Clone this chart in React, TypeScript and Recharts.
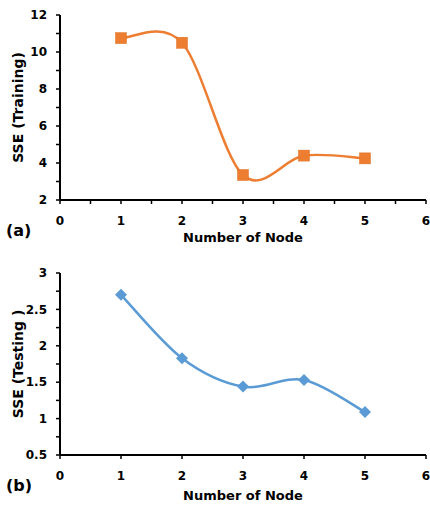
import { LineChart, Line, XAxis, YAxis } from "recharts";

const nodes = [1, 2, 3, 4, 5];
const sseTraining = [10.75, 10.5, 3.35, 4.4, 4.25];
const sseTesting = [2.7, 1.83, 1.44, 1.53, 1.09];

const xTicksTop = [0, 0.5, 1, 1.5, 2, 2.5, 3, 3.5, 4, 4.5, 5, 5.5, 6];
const xTicksBottom = [0, 1, 2, 3, 4, 5, 6];
const yTicksTop = [2, 3, 4, 5, 6, 7, 8, 9, 10, 11, 12];
const yTicksBottom = [0.5, 0.75, 1, 1.25, 1.5, 1.75, 2, 2.25, 2.5, 2.75, 3];

const FONT = "'DejaVu Sans', Verdana, sans-serif";
const ORANGE = "#ED7D31";
const BLUE = "#5B9BD5";

const trainingData = nodes.map((n, i) => ({ node: n, sse: sseTraining[i] }));
const testingData = nodes.map((n, i) => ({ node: n, sse: sseTesting[i] }));

// Excel-style smoothed line (Catmull-Rom as cubic beziers)
function smoothCurve(context: any) {
  let pts: number[][] = [];
  return {
    areaStart() {},
    areaEnd() {},
    lineStart() {
      pts = [];
    },
    point(x: number, y: number) {
      pts.push([+x, +y]);
    },
    lineEnd() {
      if (!pts.length) return;
      context.moveTo(pts[0][0], pts[0][1]);
      for (let i = 0; i < pts.length - 1; i++) {
        const p0 = pts[i - 1] || pts[i];
        const p1 = pts[i];
        const p2 = pts[i + 1];
        const p3 = pts[i + 2] || pts[i + 1];
        context.bezierCurveTo(
          p1[0] + (p2[0] - p0[0]) / 6,
          p1[1] + (p2[1] - p0[1]) / 6,
          p2[0] - (p3[0] - p1[0]) / 6,
          p2[1] - (p3[1] - p1[1]) / 6,
          p2[0],
          p2[1]
        );
      }
    },
  };
}

const SquareDot = (props: any) => {
  const { cx, cy, index } = props;
  return <rect key={`sq-${index}`} x={cx - 5.5} y={cy - 5.5} width={11} height={11} fill={ORANGE} stroke="#e07020" strokeWidth={0.5} />;
};

const DiamondDot = (props: any) => {
  const { cx, cy, index } = props;
  const r = 6;
  return (
    <path
      key={`dm-${index}`}
      d={`M${cx},${cy - r}L${cx + r},${cy}L${cx},${cy + r}L${cx - r},${cy}Z`}
      fill={BLUE}
    />
  );
};

const tickStyle = { fill: "#000", fontSize: 12, fontWeight: "bold", fontFamily: FONT };
const xTitleStyle = { fill: "#000", fontSize: 13, fontWeight: "bold", fontFamily: FONT };
const yTitleStyle = { fill: "#000", fontSize: 14, fontWeight: "bold", fontFamily: FONT, textAnchor: "middle" as const };

export default function App() {
  return (
    <div style={{ position: "absolute", left: 0, top: 0, width: 430, height: 506, background: "#fff" }}>
      <div style={{ position: "absolute", left: 0, top: 0 }}>
        <LineChart width={430} height={250} data={trainingData} margin={{ top: 15, right: 4, left: 0, bottom: 0 }}>
          <XAxis
            dataKey="node"
            type="number"
            domain={[0, 6]}
            ticks={xTicksTop}
            interval={0}
            tickFormatter={(v) => (Number.isInteger(v) ? String(v) : "")}
            height={50}
            tick={tickStyle}
            tickSize={4}
            tickMargin={12}
            axisLine={{ stroke: "#000", strokeWidth: 2 }}
            tickLine={{ stroke: "#000", strokeWidth: 1.5 }}
            label={{ value: "Number of Node", position: "insideBottom", offset: 8, style: xTitleStyle }}
          />
          <YAxis
            type="number"
            domain={[2, 12]}
            ticks={yTicksTop}
            interval={0}
            tickFormatter={(v) => (v % 2 === 0 ? String(v) : "")}
            width={60}
            tick={tickStyle}
            tickSize={4}
            tickMargin={9}
            axisLine={{ stroke: "#000", strokeWidth: 2 }}
            tickLine={{ stroke: "#000", strokeWidth: 1.5 }}
            label={{
              value: "SSE (Training)",
              angle: -90,
              position: "insideLeft",
              offset: 18,
              style: yTitleStyle,
            }}
          />
          <Line
            dataKey="sse"
            type={smoothCurve as any}
            stroke={ORANGE}
            strokeWidth={2.5}
            dot={SquareDot}
            activeDot={false}
            isAnimationActive={false}
          />
        </LineChart>
      </div>
      <span style={{ position: "absolute", left: 6, top: 222, fontFamily: FONT, fontWeight: "bold", fontSize: 16, lineHeight: "18px" }}>
        (a)
      </span>

      <div style={{ position: "absolute", left: 0, top: 250 }}>
        <LineChart width={430} height={256} data={testingData} margin={{ top: 23, right: 4, left: 0, bottom: 0 }}>
          <XAxis
            dataKey="node"
            type="number"
            domain={[0, 6]}
            ticks={xTicksBottom}
            interval={0}
            height={51}
            tick={tickStyle}
            tickSize={4}
            tickMargin={12}
            axisLine={{ stroke: "#000", strokeWidth: 2 }}
            tickLine={{ stroke: "#000", strokeWidth: 1.5 }}
            label={{ value: "Number of Node", position: "insideBottom", offset: 6, style: xTitleStyle }}
          />
          <YAxis
            type="number"
            domain={[0.5, 3]}
            ticks={yTicksBottom}
            interval={0}
            tickFormatter={(v) => (Math.abs(v * 2 - Math.round(v * 2)) < 1e-9 ? String(v) : "")}
            width={60}
            tick={tickStyle}
            tickSize={4}
            tickMargin={9}
            axisLine={{ stroke: "#000", strokeWidth: 2 }}
            tickLine={{ stroke: "#000", strokeWidth: 1.5 }}
            label={{
              value: "SSE (Testing )",
              angle: -90,
              position: "insideLeft",
              offset: 18,
              style: yTitleStyle,
            }}
          />
          <Line
            dataKey="sse"
            type={smoothCurve as any}
            stroke={BLUE}
            strokeWidth={2.5}
            dot={DiamondDot}
            activeDot={false}
            isAnimationActive={false}
          />
        </LineChart>
      </div>
      <span style={{ position: "absolute", left: 6, top: 477, fontFamily: FONT, fontWeight: "bold", fontSize: 16, lineHeight: "18px" }}>
        (b)
      </span>
    </div>
  );
}
